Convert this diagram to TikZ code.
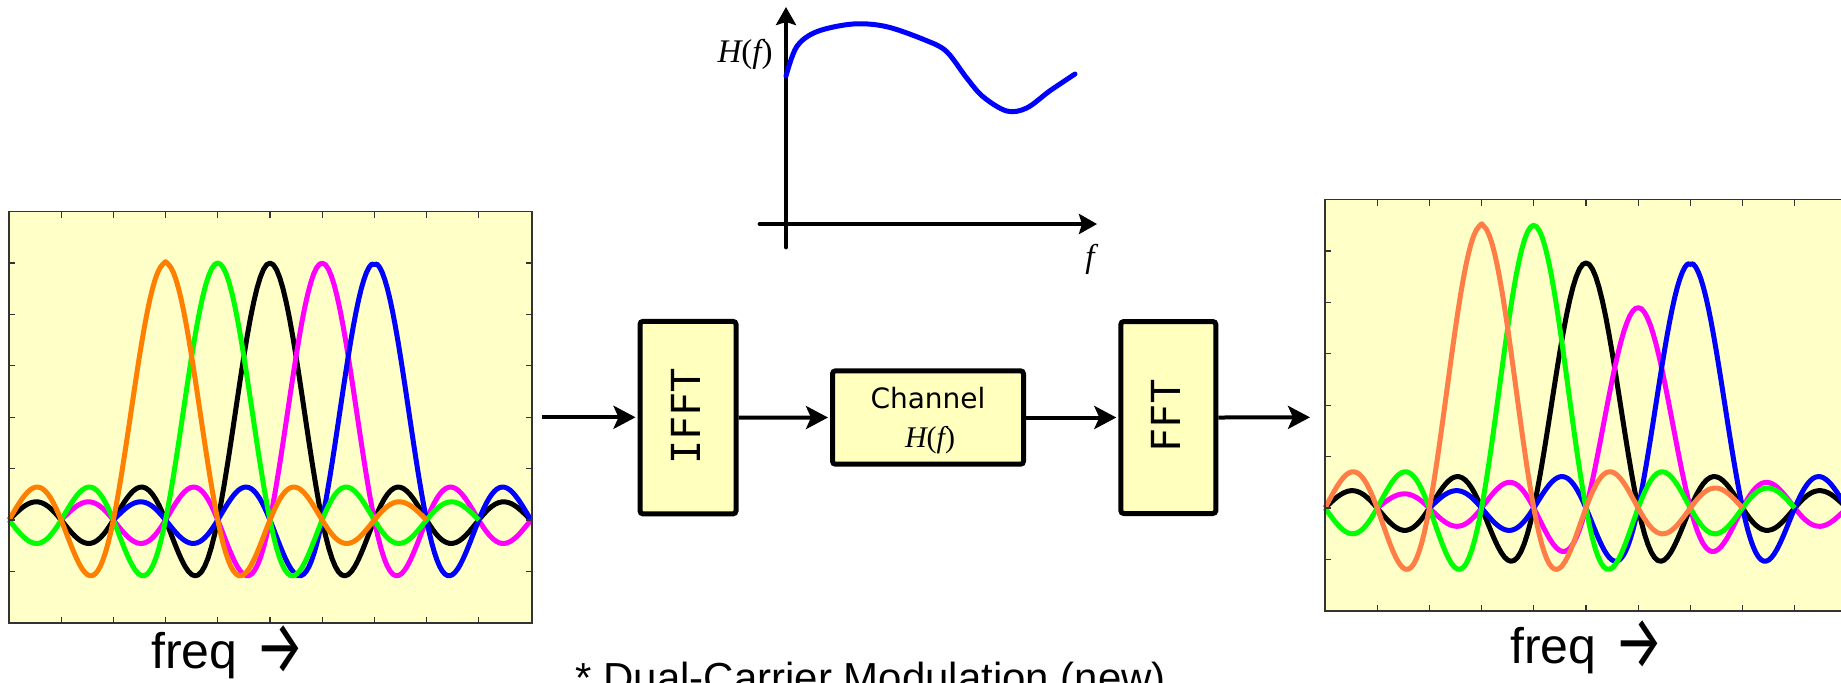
\documentclass[tikz,border=0pt]{standalone}
\usepackage{fontspec}
\setmainfont{Liberation Sans}
\newfontfamily\tnr{Liberation Serif}
\newfontfamily\monof{DejaVu Sans Mono}
\newfontfamily\comicf{DejaVu Sans}
\newfontfamily\arrowf{Fira Sans}
\usetikzlibrary{arrows.meta}
\definecolor{plotbg}{RGB}{255,255,200}
\definecolor{boxbg}{RGB}{255,255,190}
\definecolor{morange}{RGB}{255,128,0}
\definecolor{corange}{RGB}{255,125,70}
\definecolor{mgreen}{RGB}{0,255,0}
\definecolor{mmag}{RGB}{255,0,255}
\definecolor{mblue}{RGB}{0,0,255}
\newcommand\bigarrow{\hspace{2pt}\raisebox{-2.75pt}{\scalebox{1.1}[1.5]{\arrowf →}}}
% #1 colour, #2 x0, #3 y0 (zero line), #4 centre, #5 amplitude, #6 from, #7 to
\newcommand\sincplot[7]{%
  \draw[curve,#1] plot[domain=#6:#7,samples=161]
   ({#2+52.2*\x},{#3-257*#5*sin(180*(\x-#4+0.001))/(pi*(\x-#4+0.001))});}
\newcommand\plotframe[3]{% #1 left x, #2 zero y, #3 right x
  \fill[plotbg] (#1,{#2-308.4}) rectangle (#3,{#2+102.8});}
\newcommand\plotticks[3]{%
  \foreach \i in {1,...,9} {
    \draw[tickmark] ({#1+52.2*\i},{#2+102.8}) -- ++(0,-6);
    \draw[tickmark] ({#1+52.2*\i},{#2-308.4}) -- ++(0,6);}
  \foreach \v in {-1,...,5} {
    \draw[tickmark] (#1,{#2-51.4*\v}) -- ++(6,0);
    \draw[tickmark] (#3,{#2-51.4*\v}) -- ++(-6,0);}
  \draw[frameline] (#1,{#2-308.4}) rectangle (#3,{#2+102.8});}
\begin{document}
\begin{tikzpicture}[x=0.5pt,y=-0.5pt,
  curve/.style={line width=2.5pt,line join=round},
  tickmark/.style={line width=0.6pt,black!80},
  frameline/.style={line width=0.7pt,black!80},
  blockbox/.style={draw,line width=2.5pt,rounded corners=1.5pt,fill=boxbg,inner sep=0pt},
  flow/.style={line width=2pt,shorten >=1pt,-{Stealth[length=11pt,width=11.5pt,inset=2.5pt]}},
  axisline/.style={line width=2.4pt,line cap=round,-{Stealth[length=9pt,width=10pt,inset=1.5pt]}},
  freqlab/.style={font=\fontsize{25}{30}\selectfont,anchor=base west,inner sep=0pt},
  mathlab/.style={font=\tnr\fontsize{16.5}{20}\selectfont,inner sep=0pt},
  rotlab/.style={font=\monof\fontsize{20}{24}\selectfont,rotate=90,inner sep=0pt}
]
\clip (0,0) rectangle (1841,682);

% ---------- left spectrum ----------
\plotframe{9}{520}{532}
\sincplot{black}{9}{520}{5}{1}{0}{10}
\sincplot{mmag}{9}{520}{6}{1}{1}{10}
\sincplot{mblue}{9}{520}{7}{1}{2}{10}
\sincplot{mgreen}{9}{520}{4}{1}{0}{9}
\sincplot{morange}{9}{520}{3}{1}{0}{8}
\plotticks{9}{520}{532}
\node[freqlab] (freqL) at (151,668) {freq\ \bigarrow};

% ---------- right spectrum ----------
\plotframe{1325}{508}{1847}
\sincplot{black}{1325}{508}{5}{0.954}{0}{10}
\sincplot{mmag}{1325}{508}{6}{0.78}{1}{10}
\sincplot{mblue}{1325}{508}{7}{0.954}{2}{10}
\sincplot{mgreen}{1325}{508}{4}{1.1}{0}{9}
\sincplot{corange}{1325}{508}{3}{1.1}{0}{8}
\plotticks{1325}{508}{1847}
\node[freqlab] (freqR) at (1510,663) {freq\ \bigarrow};

% ---------- channel response ----------
\coordinate (yb) at (786,247);
\coordinate (yt) at (786,7);
\coordinate (xl) at (760,224);
\coordinate (xr) at (1097,224);
\draw[axisline] (yb) -- (yt);
\draw[axisline] (xl) -- (xr);
\draw[mblue,line width=2.5pt,line cap=round] plot[smooth,tension=0.55] coordinates {
  (786,76) (796.7,46.7) (816.7,31.7) (853,24) (886.7,26.7) (926.7,40.7)
  (946.7,51.7) (966.7,78) (983,96.7) (1006.7,111) (1026.7,108) (1050,90.7) (1075,74)};
\node[mathlab,anchor=base east] (hlab) at (773,62) {\itshape H\upshape(\itshape f\upshape)};
\node[mathlab] (flab) at (1090,259) {\itshape f};

% ---------- block chain ----------
\node[blockbox,minimum width=48pt,minimum height=96.25pt] (ifft) at (688,417.6) {};
\node[rotlab] (ifftlab) at (686,416.5) {IFFT};
\node[blockbox,minimum width=95.5pt,minimum height=46.7pt] (ch) at (928,417.5) {};
\node[font=\comicf\fontsize{14}{17}\selectfont,anchor=base,inner sep=0pt] (chlab) at (928,408) {Channel};
\node[font=\tnr\fontsize{15}{18}\selectfont,anchor=base,inner sep=0pt] (chH) at (930,447) {\itshape H\upshape(\itshape f\upshape)};
\node[blockbox,minimum width=47.5pt,minimum height=96pt] (fft) at (1168.3,417.5) {};
\node[rotlab] (fftlab) at (1166,416) {FFT};

\coordinate (a0) at (542,417.3);
\coordinate (a4) at (1312,417.3);
\draw[flow] (a0) -- (a0 -| ifft.west);
\draw[flow] (ifft.east) -- (ch.west);
\draw[flow] (ch.east) -- (fft.west);
\draw[flow] (fft.east) -- (a4);

% ---------- note ----------
\node[font=\fontsize{21}{25}\selectfont,anchor=base west,inner sep=0pt] (note) at (575,692) {* Dual-Carrier Modulation (new)};
\end{tikzpicture}
\end{document}
